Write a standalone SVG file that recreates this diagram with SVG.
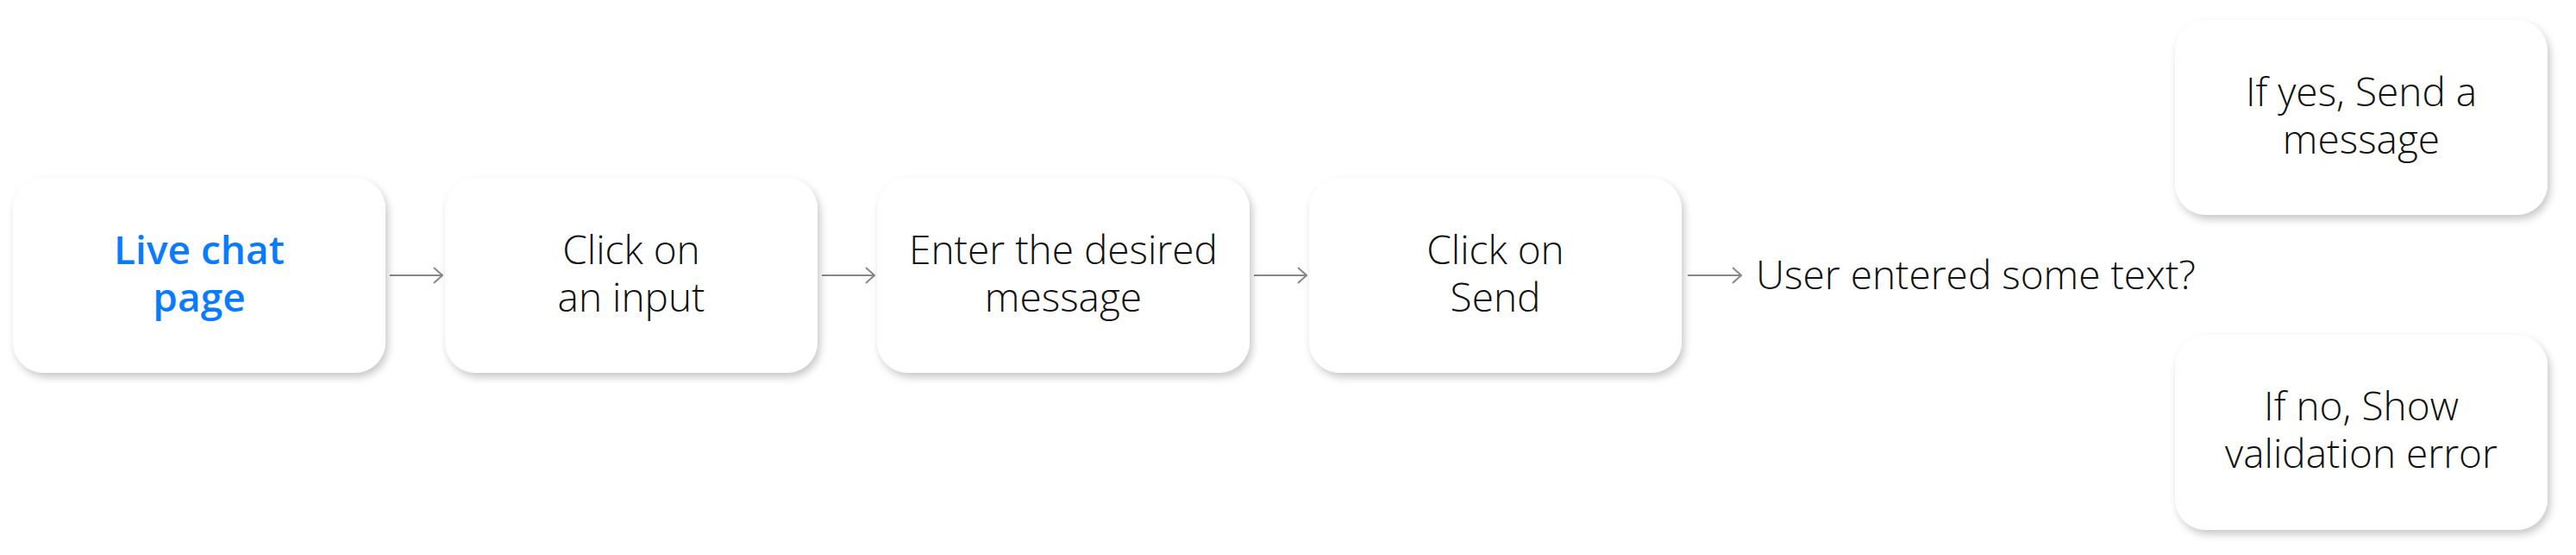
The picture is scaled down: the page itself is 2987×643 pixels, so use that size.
<svg xmlns="http://www.w3.org/2000/svg" width="2987" height="643" viewBox="0 0 2987 643">
<defs>
<style>
.box{fill:#fff;filter:url(#sh)}
.t{font-family:"Open Sans","Liberation Sans",sans-serif;font-weight:300;font-size:46px;fill:#111;text-anchor:middle}
.blue{fill:#0a7bff;font-weight:600}
.c{stroke:#888;stroke-width:2;fill:none;marker-end:url(#ah)}
</style>
<filter id="sh" x="-10%" y="-10%" width="125%" height="130%">
<feDropShadow dx="3" dy="5" stdDeviation="5" flood-color="#000" flood-opacity="0.22"/>
</filter>
<marker id="ah" viewBox="0 0 12 20" refX="11" refY="10" markerWidth="12" markerHeight="20" markerUnits="userSpaceOnUse" orient="auto">
<path d="M1 1 L11 10 L1 19" fill="none" stroke="#888" stroke-width="2"/>
</marker>
</defs>
<rect width="2987" height="643" fill="#fff"/>
<g id="connectors">
<line class="c" x1="452" y1="319" x2="513" y2="319"/>
<line class="c" x1="953" y1="319" x2="1014" y2="319"/>
<line class="c" x1="1454" y1="319" x2="1515" y2="319"/>
<line class="c" x1="1957" y1="319" x2="2019" y2="319"/>
</g>
<g id="n1"><rect class="box" x="15" y="206" width="432" height="226" rx="36"/>
<text class="t blue" x="231" y="306">Live chat</text><text class="t blue" x="231" y="361">page</text></g>
<g id="n2"><rect class="box" x="516" y="206" width="432" height="226" rx="36"/>
<text class="t" x="732" y="306">Click on</text><text class="t" x="732" y="361">an input</text></g>
<g id="n3"><rect class="box" x="1017" y="206" width="432" height="226" rx="36"/>
<text class="t" x="1233" y="306">Enter the desired</text><text class="t" x="1233" y="361">message</text></g>
<g id="n4"><rect class="box" x="1518" y="206" width="432" height="226" rx="36"/>
<text class="t" x="1734" y="306">Click on</text><text class="t" x="1734" y="361">Send</text></g>
<g id="decision"><text class="t" x="2036" y="335" style="text-anchor:start">User entered some text?</text></g>
<g id="n5"><rect class="box" x="2522" y="23" width="432" height="226" rx="36"/>
<text class="t" x="2738" y="123">If yes, Send a</text><text class="t" x="2738" y="178">message</text></g>
<g id="n6"><rect class="box" x="2522" y="388" width="432" height="226" rx="36"/>
<text class="t" x="2738" y="487">If no, Show</text><text class="t" x="2738" y="542">validation error</text></g>
</svg>
